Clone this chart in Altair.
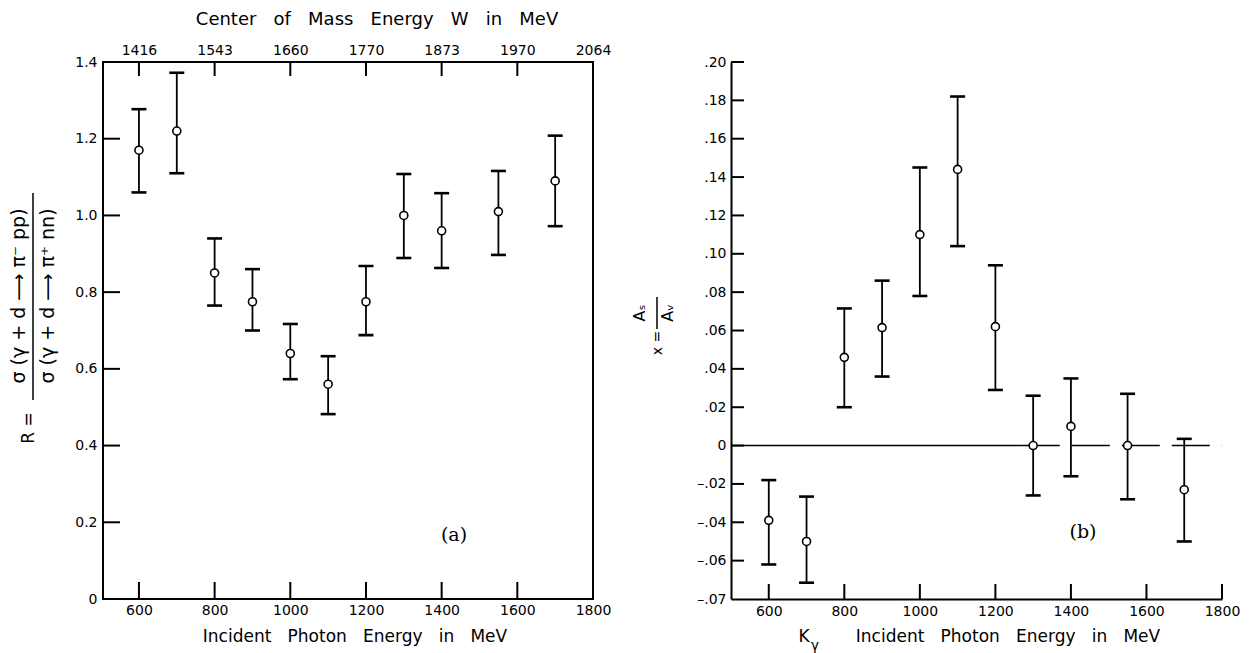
import altair as alt
import pandas as pd

FONT = "DejaVu Sans"
SERIF = "DejaVu Serif"

# ---------------- panel (a) data ----------------
a_k = [600, 700, 800, 900, 1000, 1100, 1200, 1300, 1400, 1550, 1700]
a_r = [1.17, 1.22, 0.85, 0.775, 0.64, 0.56, 0.775, 1.00, 0.96, 1.01, 1.09]
a_lo = [1.06, 1.11, 0.765, 0.70, 0.573, 0.482, 0.688, 0.889, 0.863, 0.897, 0.972]
a_hi = [1.277, 1.372, 0.94, 0.86, 0.717, 0.633, 0.868, 1.108, 1.058, 1.116, 1.208]

a_xticks = [600, 800, 1000, 1200, 1400, 1600, 1800]
a_wlabels = ["1416", "1543", "1660", "1770", "1873", "1970", "2064"]
a_yticks = [0, 0.2, 0.4, 0.6, 0.8, 1.0, 1.2, 1.4]
a_ylabels = ["0", "0.2", "0.4", "0.6", "0.8", "1.0", "1.2", "1.4"]

# ---------------- panel (b) data ----------------
b_k = [600, 700, 800, 900, 1000, 1100, 1200, 1300, 1400, 1550, 1700]
b_x = [-0.039, -0.050, 0.046, 0.0615, 0.110, 0.144, 0.062, 0.0, 0.010, 0.0, -0.023]
b_lo = [-0.062, -0.0715, 0.020, 0.036, 0.078, 0.104, 0.029, -0.026, -0.016, -0.028, -0.050]
b_hi = [-0.018, -0.0266, 0.0715, 0.086, 0.145, 0.182, 0.094, 0.026, 0.035, 0.027, 0.0035]

b_xticks = [600, 800, 1000, 1200, 1400, 1600, 1800]
b_yticks = [-0.08, -0.06, -0.04, -0.02, 0, 0.02, 0.04, 0.06, 0.08, 0.10, 0.12, 0.14, 0.16, 0.18, 0.20]
b_ylabels = ["\u2013.07", "\u2013.06", "\u2013.04", "\u2013.02", "0", ".02", ".04", ".06", ".08",
             ".10", ".12", ".14", ".16", ".18", ".20"]
zero_solid = [500, 1270]
zero_dashed = [1270, 1800]

SEP = "\u00a0\u00a0\u00a0"
top_title = SEP.join(["Center", "of", "Mass", "Energy", "W", "in", "MeV"])
bottom_title = SEP.join(["Incident", "Photon", "Energy", "in", "MeV"])

W1, H1 = 490, 537
W2, H2 = 491, 537


def lookup_expr(values, labels, mult=1):
    vals = ",".join(str(int(round(v * mult))) for v in values)
    labs = ",".join("'" + s + "'" for s in labels)
    key = "datum.value" if mult == 1 else f"round(datum.value*{mult})"
    return f"[{labs}][indexof([{vals}], {key})]"


def label(txt, x, y, size, angle=0, font=FONT):
    return alt.Chart(pd.DataFrame({"t": [txt]})).mark_text(
        font=font, fontSize=size, angle=angle, align="center", baseline="middle", color="black"
    ).encode(x=alt.value(x), y=alt.value(y), text="t:N")


def vbar(x, y1, y2):
    return alt.Chart(pd.DataFrame({"d": [0]})).mark_rule(color="black", strokeWidth=1.5).encode(
        x=alt.value(x), y=alt.value(y1), y2=alt.value(y2))


# ---------------- panel (a) ----------------
dfa = pd.DataFrame({"k": a_k, "r": a_r, "lo": a_lo, "hi": a_hi})
xs_a = alt.Scale(domain=[505, 1800], nice=False, zero=False)
ys_a = alt.Scale(domain=[0, 1.4], nice=False, zero=False)

x_a = alt.X("k:Q", scale=xs_a, axis=alt.Axis(orient="bottom", values=a_xticks, ticks=False, domain=False,
                                            grid=False, title=None, labelPadding=4, format="d",
                                            labelFlush=False))
y_a_axis = alt.Axis(orient="left", values=a_yticks, ticks=False, domain=False, grid=False, title=None,
                    labelPadding=6, labelFlush=False, labelExpr=lookup_expr(a_yticks, a_ylabels, 100))

err_a = alt.Chart(dfa).mark_rule(color="black", strokeWidth=1.8).encode(
    x=x_a, y=alt.Y("lo:Q", scale=ys_a, axis=y_a_axis), y2="hi:Q")
caplo_a = alt.Chart(dfa).mark_tick(orient="horizontal", size=15, thickness=2.6, color="black", opacity=1).encode(
    x=alt.X("k:Q", scale=xs_a, axis=None), y=alt.Y("lo:Q", scale=ys_a, axis=None))
caphi_a = alt.Chart(dfa).mark_tick(orient="horizontal", size=15, thickness=2.6, color="black", opacity=1).encode(
    x=alt.X("k:Q", scale=xs_a, axis=None), y=alt.Y("hi:Q", scale=ys_a, axis=None))
pts_a = alt.Chart(dfa).mark_circle(size=64, fill="white", stroke="black", strokeWidth=1.6, opacity=1).encode(
    x=alt.X("k:Q", scale=xs_a, axis=None), y=alt.Y("r:Q", scale=ys_a, axis=None))

tka = pd.DataFrame({"t": a_xticks[:-1]})
tick_bottom_a = alt.Chart(tka).mark_rule(color="black", strokeWidth=2).encode(
    x=alt.X("t:Q", scale=xs_a, axis=None), y=alt.value(H1), y2=alt.value(H1 - 17))
tick_top_a = alt.Chart(pd.DataFrame({"t": a_xticks})).mark_rule(color="black", strokeWidth=2).encode(
    x=alt.X("t:Q", scale=xs_a, axis=alt.Axis(orient="top", values=a_xticks, ticks=False, domain=False,
                                              grid=False, title=None, labelPadding=5, labelFlush=False,
                                              labelExpr=lookup_expr(a_xticks, a_wlabels))),
    y=alt.value(0), y2=alt.value(14),
    opacity=alt.condition("datum.t < 1700", alt.value(1), alt.value(0)))
tick_left_a = alt.Chart(pd.DataFrame({"t": a_yticks[1:-1]})).mark_rule(color="black", strokeWidth=2).encode(
    y=alt.Y("t:Q", scale=ys_a, axis=None), x=alt.value(0), x2=alt.value(17))

left = alt.layer(
    err_a, caplo_a, caphi_a, pts_a, tick_bottom_a, tick_top_a, tick_left_a,
    label(top_title, 274, -42, 18),
    label("\u03c3  (\u03b3 + d \u27f6 \u03c0\u207b pp)", -84, 234, 19, angle=270),
    vbar(-70, 131, 338),
    label("\u03c3  (\u03b3 + d \u27f6 \u03c0\u207a nn)", -55, 234, 19, angle=270),
    label("R =", -74, 366, 17, angle=270),
    label(bottom_title, 252, 575, 17),
    label("(a)", 351, 473, 19, font=SERIF),
).resolve_axis(x="independent", y="independent").properties(
    width=W1, height=H1, view=alt.ViewBackground(stroke="black", strokeWidth=2))

# ---------------- panel (b) ----------------
dfb = pd.DataFrame({"k": b_k, "v": b_x, "lo": b_lo, "hi": b_hi})
xs_b = alt.Scale(domain=[500, 1800], nice=False, zero=False)
ys_b = alt.Scale(domain=[-0.08, 0.20], nice=False, zero=False)

x_b = alt.X("k:Q", scale=xs_b, axis=alt.Axis(orient="bottom", values=b_xticks, ticks=False, domain=True,
                                            domainColor="black", domainWidth=2, labelFlush=False,
                                            grid=False, title=None, labelPadding=5, format="d"))
y_b_axis = alt.Axis(orient="left", values=b_yticks, ticks=False, domain=True, domainColor="black",
                    domainWidth=2, grid=False, title=None, labelPadding=5, labelFlush=False,
                    labelExpr=lookup_expr(b_yticks, b_ylabels, 100))

zs = alt.Chart(pd.DataFrame({"a": [zero_solid[0]], "b": [zero_solid[1]], "z": [0]})).mark_rule(
    color="black", strokeWidth=1.5).encode(
    x=alt.X("a:Q", scale=xs_b, axis=None), x2="b:Q", y=alt.Y("z:Q", scale=ys_b, axis=None))
zd = alt.Chart(pd.DataFrame({"a": [zero_dashed[0]], "b": [zero_dashed[1]], "z": [0]})).mark_rule(
    color="black", strokeWidth=1.5, strokeDash=[38, 12]).encode(
    x=alt.X("a:Q", scale=xs_b, axis=None), x2="b:Q", y=alt.Y("z:Q", scale=ys_b, axis=None))

err_b = alt.Chart(dfb).mark_rule(color="black", strokeWidth=1.8).encode(
    x=x_b, y=alt.Y("lo:Q", scale=ys_b, axis=y_b_axis), y2="hi:Q")
caplo_b = alt.Chart(dfb).mark_tick(orient="horizontal", size=15, thickness=2.6, color="black", opacity=1).encode(
    x=alt.X("k:Q", scale=xs_b, axis=None), y=alt.Y("lo:Q", scale=ys_b, axis=None))
caphi_b = alt.Chart(dfb).mark_tick(orient="horizontal", size=15, thickness=2.6, color="black", opacity=1).encode(
    x=alt.X("k:Q", scale=xs_b, axis=None), y=alt.Y("hi:Q", scale=ys_b, axis=None))
pts_b = alt.Chart(dfb).mark_circle(size=64, fill="white", stroke="black", strokeWidth=1.6, opacity=1).encode(
    x=alt.X("k:Q", scale=xs_b, axis=None), y=alt.Y("v:Q", scale=ys_b, axis=None))

tick_bottom_b = alt.Chart(pd.DataFrame({"t": b_xticks})).mark_rule(color="black", strokeWidth=2).encode(
    x=alt.X("t:Q", scale=xs_b, axis=None), y=alt.value(H2), y2=alt.value(H2 - 15))
tick_left_b = alt.Chart(pd.DataFrame({"t": b_yticks[1:]})).mark_rule(color="black", strokeWidth=2).encode(
    y=alt.Y("t:Q", scale=ys_b, axis=None), x=alt.value(0), x2=alt.value(13))

right = alt.layer(
    zs, zd, err_b, caplo_b, caphi_b, pts_b, tick_bottom_b, tick_left_b,
    label("A\u209b", -91, 251, 16, angle=270),
    vbar(-74, 235, 267),
    label("A\u1d65", -63, 251, 16, angle=270),
    label("x =", -73, 281, 14, angle=270),
    label("K", 73, 575, 17),
    label("\u03b3", 84, 584, 14),
    label(bottom_title, 277, 575, 17),
    label("(b)", 352, 470, 19, font=SERIF),
).resolve_axis(x="independent", y="independent").properties(width=W2, height=H2)

chart = alt.hconcat(left, right, spacing=138, bounds="flush").properties(
    padding={"left": 1, "top": 2, "right": 0, "bottom": 0}
).configure_view(stroke=None).configure_axis(
    labelFont=FONT, labelFontSize=14, labelColor="black"
)

chart.save("out.html", embed_options={"renderer": "svg", "actions": False})
